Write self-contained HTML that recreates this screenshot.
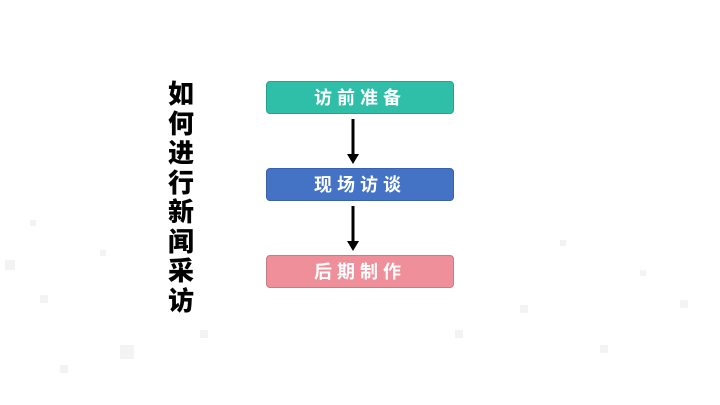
<!DOCTYPE html>
<html><head><meta charset="utf-8"><style>
body{margin:0;width:720px;height:405px;background:#fff;overflow:hidden;position:relative;font-family:"Liberation Sans","Noto Sans CJK SC",sans-serif}
.t{position:absolute;left:166px;top:80px;width:30px;font-size:26px;font-weight:900;line-height:29.5px;color:#000;text-align:center}
.b{position:absolute;left:266px;width:188px;height:33px;border-radius:4px;color:#fff;font-size:18px;font-weight:bold;text-align:center;line-height:33px;letter-spacing:5px;box-sizing:border-box}
.dots{position:absolute;left:0;top:0}
</style></head><body>
<svg class="dots" width="720" height="405">
<g fill="#f3f3f3">
<rect x="5" y="260" width="10" height="10"/><rect x="40" y="295" width="8" height="8"/><rect x="120" y="345" width="14" height="14"/><rect x="60" y="365" width="8" height="8"/><rect x="200" y="330" width="8" height="8"/><rect x="455" y="330" width="8" height="8"/><rect x="520" y="305" width="8" height="8"/><rect x="600" y="345" width="8" height="8"/><rect x="680" y="300" width="8" height="8"/><rect x="30" y="220" width="6" height="6"/><rect x="100" y="250" width="6" height="6"/><rect x="560" y="240" width="6" height="6"/><rect x="640" y="270" width="6" height="6"/>
</g></svg>
<div class="t">如<br>何<br>进<br>行<br>新<br>闻<br>采<br>访</div>
<div class="b" style="top:81px;background:#2fbfa8;border:1px solid #28a08e">访前准备</div>
<div class="b" style="top:168px;background:#4472c4;border:1px solid #3a62a8">现场访谈</div>
<div class="b" style="top:255px;background:#ee8f9a;border:1px solid #c97a84">后期制作</div>
<svg style="position:absolute;left:0;top:0" width="720" height="405">
<line x1="353" y1="119" x2="353" y2="155" stroke="#000" stroke-width="3"/>
<polygon points="347,154 359,154 353,164" fill="#000"/>
<line x1="353" y1="206" x2="353" y2="242" stroke="#000" stroke-width="3"/>
<polygon points="347,241 359,241 353,251" fill="#000"/>
</svg>
</body></html>
